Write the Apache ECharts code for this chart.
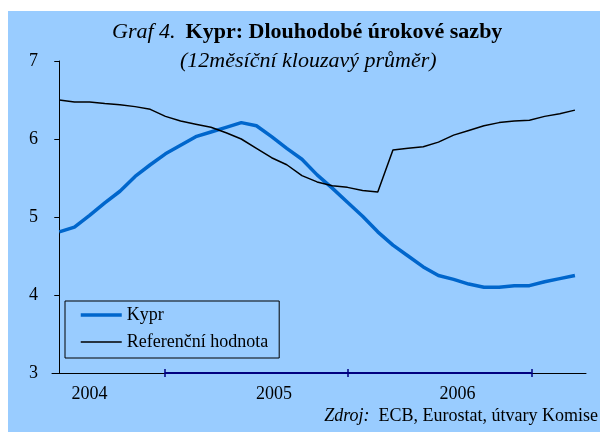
<!DOCTYPE html>
<html>
<head>
<meta charset="utf-8">
<script src="https://cdn.jsdelivr.net/npm/echarts@6/dist/echarts.min.js"></script>
<style>
  html, body { margin: 0; padding: 0; background: #fff; }
  #chart { width: 600px; height: 432px; }
</style>
</head>
<body>
<div id="chart"></div>
<script>
// monthly 12-month moving averages, Nov 2003 - Sep 2006
const kypr = [
  4.81, 4.87, 5.02, 5.18, 5.33, 5.52, 5.67, 5.81, 5.92, 6.03, 6.09, 6.15,
  6.21, 6.17, 6.03, 5.88, 5.74, 5.54, 5.37, 5.19, 5.01, 4.81, 4.64, 4.50,
  4.36, 4.25, 4.20, 4.14, 4.10, 4.10, 4.12, 4.12, 4.17, 4.21, 4.25
];
const referencni = [
  6.50, 6.475, 6.475, 6.455, 6.44, 6.415, 6.38, 6.29, 6.23, 6.19, 6.15, 6.08,
  6.00, 5.88, 5.76, 5.67, 5.53, 5.45, 5.40, 5.38, 5.34, 5.32, 5.86, 5.88,
  5.90, 5.96, 6.05, 6.11, 6.17, 6.21, 6.23, 6.24, 6.29, 6.325, 6.37
];
const yearLabels = ["2004", "2005", "2006"];
const yearLabelPos = [2, 14.15, 26.25];
const yearTickPos = [6.95, 19.05, 31.15];

const serif = "Liberation Serif";
const chart = echarts.init(document.getElementById("chart"));

const toPairs = (arr) => arr.map((v, i) => [i, v]);

const option = {
  animation: false,
  backgroundColor: "#fff",
  graphic: [
    {
      type: "rect",
      z: -100,
      silent: true,
      shape: { x: 8, y: 11, width: 592, height: 421 },
      style: { fill: "#99CCFF" },
    },
  ],
  title: [
    {
      text: "{i|Graf 4.}  {b|Kypr: Dlouhodobé úrokové sazby}",
      left: 112,
      top: 21,
      padding: 0,
      textStyle: {
        rich: {
          i: { fontFamily: serif, fontStyle: "italic", fontWeight: "normal", fontSize: 22, color: "#000" },
          b: { fontFamily: serif, fontWeight: "bold", fontSize: 22, color: "#000" },
        },
      },
    },
    {
      text: "(12měsíční klouzavý průměr)",
      left: 180,
      top: 50,
      padding: 0,
      textStyle: {
        fontFamily: serif,
        fontStyle: "italic",
        fontWeight: "normal",
        fontSize: 22,
        color: "#000",
      },
    },
    {
      text: "{i|Zdroj:}  ECB, Eurostat, útvary Komise",
      right: 2,
      top: 407,
      padding: 0,
      textStyle: {
        fontFamily: serif,
        fontWeight: "normal",
        fontSize: 18,
        color: "#000",
        rich: {
          i: { fontFamily: serif, fontStyle: "italic", fontSize: 18, color: "#000" },
        },
      },
    },
  ],
  legend: {
    data: [
      { name: "Kypr", lineStyle: { width: 3.5 } },
      { name: "Referenční hodnota", lineStyle: { width: 1.5 } },
    ],
    orient: "vertical",
    left: 65,
    top: 301,
    borderColor: "#000",
    borderWidth: 1,
    padding: [5, 11, 7, 14],
    itemWidth: 41,
    itemHeight: 14,
    itemGap: 9,
    itemStyle: { opacity: 0 },
    textStyle: { fontFamily: serif, fontSize: 18, lineHeight: 18, color: "#000" },
  },
  grid: { left: 52, right: 14, top: 61, bottom: 59 },
  xAxis: [
    {
      type: "value",
      min: -0.48,
      max: 34.73,
      splitLine: { show: false },
      axisLine: { lineStyle: { color: "#000", width: 1 } },
      axisTick: {
        customValues: yearTickPos,
        length: 4,
        lineStyle: { color: "#000080", width: 1.5 },
      },
      axisLabel: {
        customValues: yearLabelPos,
        margin: 12,
        fontFamily: serif,
        fontSize: 18,
        color: "#000",
        formatter: (v) => yearLabels[yearLabelPos.indexOf(v)] || "",
      },
    },
    {
      type: "value",
      position: "bottom",
      min: -0.48,
      max: 34.73,
      splitLine: { show: false },
      axisLine: { show: false },
      axisTick: {
        customValues: yearTickPos,
        inside: true,
        length: 4,
        lineStyle: { color: "#000080", width: 1.5 },
      },
      axisLabel: { show: false },
    },
  ],
  yAxis: {
    type: "value",
    min: 3,
    max: 7,
    interval: 1,
    splitLine: { show: false },
    axisLine: { show: true, lineStyle: { color: "#000", width: 1 } },
    axisTick: { show: true, length: 5, lineStyle: { color: "#000" } },
    axisLabel: { margin: 14, fontFamily: serif, fontSize: 18, color: "#000" },
  },
  series: [
    {
      name: "Kypr",
      type: "line",
      data: toPairs(kypr),
      symbol: "none",
      lineStyle: { color: "#0066CC", width: 3.5 },
      itemStyle: { color: "#0066CC" },
      z: 3,
    },
    {
      name: "Referenční hodnota",
      type: "line",
      data: toPairs(referencni),
      symbol: "none",
      lineStyle: { color: "#000", width: 1.5 },
      itemStyle: { color: "#000" },
      z: 4,
      markLine: {
        silent: true,
        symbol: "none",
        label: { show: false },
        lineStyle: { color: "#000080", width: 2, type: "solid" },
        data: [[{ coord: [yearTickPos[0], 3] }, { coord: [yearTickPos[2], 3] }]],
      },
    },
  ],
};

chart.setOption(option);
window.addEventListener("resize", chart.resize);
</script>
</body>
</html>
